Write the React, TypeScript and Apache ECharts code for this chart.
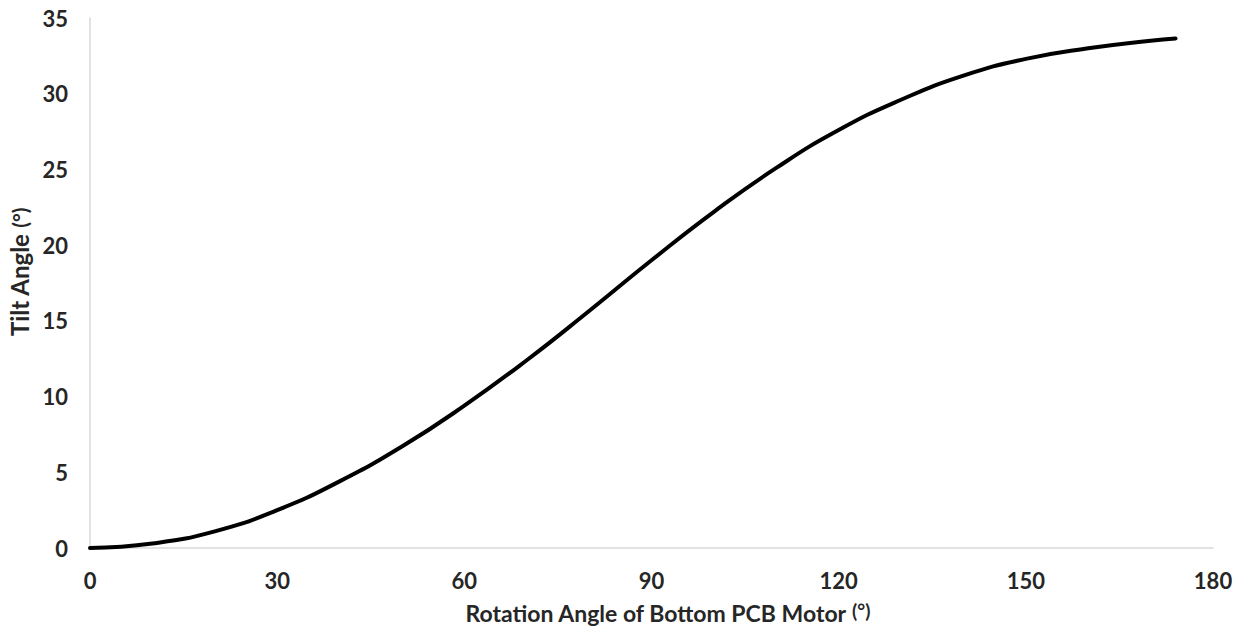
import React, { useEffect, useRef } from "react";
import * as echarts from "echarts";

const rotationDeg = [0, 10, 20, 30, 40, 50, 60, 70, 80, 90, 100, 110, 120, 130, 140, 150, 160, 170, 174];
const tiltDeg = [0, 0.3, 1.1, 2.5, 4.4, 6.7, 9.4, 12.4, 15.65, 19.0, 22.2, 25.1, 27.6, 29.6, 31.2, 32.3, 33.0, 33.5, 33.65];

const xTitle = "Rotation Angle of Bottom PCB Motor";
const yTitle = "Tilt Angle";

export default function App() {
  const ref = useRef<HTMLDivElement>(null);
  useEffect(() => {
    document.body.style.margin = "0";
    const chart = echarts.init(ref.current!, null, { renderer: "svg" });
    const font = "Lato, 'Open Sans', sans-serif";
    const data = rotationDeg.map((x, i) => [x, tiltDeg[i]]);
    chart.setOption({
      animation: false,
      backgroundColor: "#ffffff",
      grid: { left: 90, right: 29, top: 18, bottom: 78, containLabel: false, outerBoundsMode: "none" },
      xAxis: {
        type: "value",
        min: 0,
        max: 180,
        interval: 30,
        name: xTitle + " {s|(°)}",
        nameLocation: "middle",
        nameGap: 53,
        nameTextStyle: {
          fontFamily: font,
          fontWeight: "bold",
          fontSize: 23,
          lineHeight: 24,
          color: "#262626",
          padding: [0, 0, 0, 32],
          rich: { s: { fontFamily: font, fontWeight: "bold", fontSize: 19, lineHeight: 14, color: "#262626", verticalAlign: "top" } },
        },
        axisLine: { show: true, lineStyle: { color: "#d9d9d9", width: 1.5 } },
        axisTick: { show: false },
        splitLine: { show: false },
        axisLabel: { fontFamily: font, fontWeight: "bold", fontSize: 22, color: "#262626", margin: 21 },
      },
      yAxis: {
        type: "value",
        min: 0,
        max: 35,
        interval: 5,
        name: yTitle + " {s|(°)}",
        nameLocation: "middle",
        nameGap: 45,
        nameTextStyle: {
          fontFamily: font,
          fontWeight: "bold",
          fontSize: 24,
          color: "#262626",
          padding: [0, 0, 0, 22],
          rich: { s: { fontFamily: font, fontWeight: "bold", fontSize: 21, color: "#262626" } },
        },
        axisLine: { show: true, lineStyle: { color: "#d9d9d9", width: 1.5 } },
        axisTick: { show: false },
        splitLine: { show: false },
        axisLabel: { fontFamily: font, fontWeight: "bold", fontSize: 22, color: "#262626", margin: 22 },
      },
      series: [
        {
          type: "line",
          data,
          smooth: 0.5,
          showSymbol: false,
          lineStyle: { color: "#000000", width: 4, cap: "round" },
        },
      ],
    });
    return () => chart.dispose();
  }, []);
  return <div ref={ref} style={{ width: 1242, height: 626 }} />;
}
